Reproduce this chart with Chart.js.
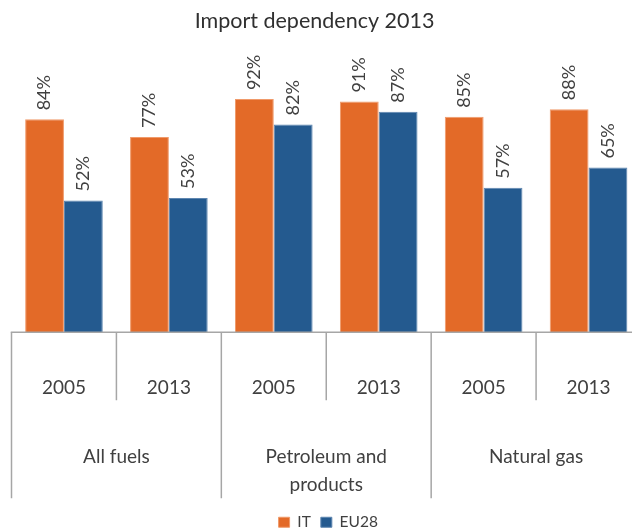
<!DOCTYPE html>
<html>
<head>
<meta charset="utf-8">
<script src="https://cdn.jsdelivr.net/npm/chart.js@4.4.1/dist/chart.umd.min.js"></script>
<style>
  html, body { margin: 0; padding: 0; background: #ffffff; overflow: hidden; }
  #wrap { width: 632px; height: 528px; position: relative; overflow: hidden; }
</style>
</head>
<body>
<div id="wrap"><canvas id="c" width="641" height="528"></canvas></div>
<script>
// ---- data ----
const categories = ['2005', '2013', '2005', '2013', '2005', '2013'];
const groups = [['All fuels'], ['Petroleum and', 'products'], ['Natural gas']];
const seriesNames = ['IT', 'EU28'];
const itValues = [84, 77, 92, 91, 85, 88];
const eu28Values = [52, 53, 82, 87, 57, 65];

// ---- styles ----
const ORANGE = '#E36A28';
const BLUE = '#245A8F';
const TEXT = '#404040';
const AXIS = '#A6A6A6';
const FONT = 'Lato, "Open Sans", sans-serif';

const dataLabels = {
  id: 'dataLabels',
  afterDatasetsDraw(chart) {
    const ctx = chart.ctx;
    ctx.save();
    ctx.fillStyle = TEXT;
    ctx.font = '18px ' + FONT;
    ctx.textAlign = 'left';
    ctx.textBaseline = 'middle';
    chart.data.datasets.forEach((ds, di) => {
      const meta = chart.getDatasetMeta(di);
      meta.data.forEach((bar, i) => {
        ctx.save();
        ctx.translate(bar.x, bar.y - 9);
        ctx.rotate(-Math.PI / 2);
        ctx.fillText(ds.data[i] + '%', 0, 0);
        ctx.restore();
      });
    });
    ctx.restore();
  }
};

const multiAxis = {
  id: 'multiAxis',
  afterLayout(chart) {
    const t = chart.titleBlock;
    if (t) { t.left = 0; t.right = 629; }
    const l = chart.legend;
    if (l) { l.left += 2; l.right += 2; }
  },
  afterDraw(chart) {
    const ctx = chart.ctx;
    const { left, right, bottom } = chart.chartArea;
    const xs = chart.scales.x;
    const n = categories.length;
    const per = n / groups.length;
    const w = (right - left) / n;
    ctx.save();
    ctx.strokeStyle = AXIS;
    ctx.lineWidth = 1.5;
    ctx.beginPath();
    ctx.moveTo(left - 0.75, bottom);
    ctx.lineTo(right, bottom);
    ctx.stroke();
    for (let i = 0; i <= n; i++) {
      const xp = left + i * w;
      const long = i % per === 0;
      ctx.beginPath();
      ctx.moveTo(xp, bottom);
      ctx.lineTo(xp, bottom + (long ? 166 : 68));
      ctx.stroke();
    }
    ctx.fillStyle = TEXT;
    ctx.font = '19px ' + FONT;
    ctx.textAlign = 'center';
    ctx.textBaseline = 'middle';
    categories.forEach((c, i) => {
      ctx.fillText(c, xs.getPixelForTick(i), bottom + 56);
    });
    groups.forEach((g, gi) => {
      const cx = (xs.getPixelForTick(gi * per) + xs.getPixelForTick(gi * per + per - 1)) / 2;
      g.forEach((line, li) => {
        ctx.fillText(line, cx, bottom + 125 + li * 27.5);
      });
    });
    ctx.restore();
  }
};

new Chart(document.getElementById('c'), {
  type: 'bar',
  data: {
    labels: categories,
    datasets: [
      { label: seriesNames[0], data: itValues, backgroundColor: ORANGE, borderColor: '#F09A6A', borderWidth: 1 },
      { label: seriesNames[1], data: eu28Values, backgroundColor: BLUE, borderColor: '#5E86B0', borderWidth: 1 }
    ]
  },
  options: {
    responsive: false,
    animation: false,
    events: [],
    layout: { padding: { left: 11.5, right: 0, top: 0, bottom: -12 } },
    datasets: { bar: { categoryPercentage: 0.74, barPercentage: 1.0 } },
    scales: {
      x: {
        display: true,
        grid: { display: false },
        border: { display: false },
        ticks: { display: false },
        afterFit: (s) => { s.height = 172.25; }
      },
      y: { display: false, min: 0, max: 100 }
    },
    plugins: {
      title: {
        display: true,
        text: 'Import dependency 2013',
        color: '#303030',
        font: { family: FONT, size: 21.5, weight: 'normal' },
        padding: { top: 8, bottom: 45 }
      },
      legend: {
        display: true,
        position: 'bottom',
        labels: {
          color: TEXT,
          font: { family: FONT, size: 15.5 },
          boxWidth: 11,
          boxHeight: 10,
          padding: 10
        }
      },
      tooltip: { enabled: false }
    }
  },
  plugins: [dataLabels, multiAxis]
});
</script>
</body>
</html>
